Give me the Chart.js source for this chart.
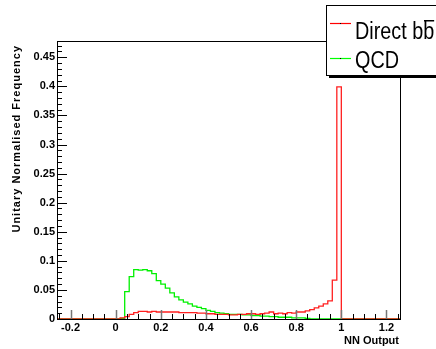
<!DOCTYPE html>
<html>
<head>
<meta charset="utf-8">
<script src="https://cdn.jsdelivr.net/npm/chart.js@4/dist/chart.umd.min.js"></script>
<style>
  html, body { margin: 0; padding: 0; background: #ffffff; }
  #wrap { width: 436px; height: 349px; }
</style>
</head>
<body>
<div id="wrap"><canvas id="nnChart" width="436" height="349"></canvas></div>
<script>
// гистограммы выхода нейросети, бины по 0.02 начиная с 0
const binStart = 0;
const binWidth = 0.02;
const xRange = [-0.26, 1.26];
const yRange = [0, 0.478];

const seriesNames = ['Direct bb', 'QCD'];

const directBB = [
    0, 0.002, 0.004, 0.008, 0.011, 0.013, 0.013, 0.012, 0.013, 0.012,
    0.012, 0.012, 0.012, 0.012, 0.011, 0.011, 0.011, 0.011, 0.010, 0.010,
    0.009, 0.009, 0.008, 0.008, 0.008, 0.007, 0.007, 0.008, 0.008, 0.009,
    0.009, 0.008, 0.009, 0.010, 0.012, 0.009, 0.010, 0.009, 0.011, 0.010,
    0.012, 0.012, 0.014, 0.016, 0.019, 0.022, 0.026, 0.031, 0.067, 0.399
];

const qcd = [
    0, 0.001, 0.047, 0.073, 0.085, 0.084, 0.085, 0.083, 0.078, 0.066,
    0.060, 0.053, 0.045, 0.038, 0.033, 0.029, 0.026, 0.022, 0.020, 0.018,
    0.015, 0.013, 0.011, 0.010, 0.009, 0.008, 0.008, 0.008, 0.007, 0.007,
    0.006, 0.006, 0.005, 0.005, 0.004, 0.004, 0.003, 0.003, 0.003, 0.002,
    0.002, 0.002, 0.001, 0, 0, 0, 0, 0, 0, 0
];

const xTickLabels = [-0.2, 0, 0.2, 0.4, 0.6, 0.8, 1, 1.2];
const yTickLabels = [0, 0.05, 0.1, 0.15, 0.2, 0.25, 0.3, 0.35, 0.4, 0.45];

// точки ступенчатой линии из значений бинов
function histPoints(values) {
    const pts = [{ x: xRange[0], y: 0 }];
    values.forEach((v, i) => {
        pts.push({ x: +(binStart + i * binWidth).toFixed(3), y: v });
    });
    pts.push({ x: +(binStart + values.length * binWidth).toFixed(3), y: 0 });
    pts.push({ x: xRange[1], y: 0 });
    return pts;
}

function fmt(v) {
    return String(+v.toFixed(3));
}

// рамка и засечки в стиле ROOT
const rootFrame = {
    id: 'rootFrame',
    afterDatasetsDraw(chart) {
        const ctx = chart.ctx;
        const a = chart.chartArea;
        const xs = chart.scales.x;
        const ys = chart.scales.y;
        ctx.save();
        ctx.strokeStyle = '#000';
        ctx.lineWidth = 1;
        ctx.strokeRect(Math.round(a.left) + 0.5, Math.round(a.top) + 0.5,
            Math.round(a.right - a.left), Math.round(a.bottom - a.top));

        // засечки по Y
        for (let k = 0; k <= 47; k++) {
            const y = Math.round(ys.getPixelForValue(k * 0.01)) + 0.5;
            const len = (k % 5 === 0) ? 10 : 5;
            ctx.beginPath();
            ctx.moveTo(a.left, y);
            ctx.lineTo(a.left + len, y);
            ctx.stroke();
        }
        // засечки по X
        for (let k = -5; k <= 25; k++) {
            const v = k * 0.05;
            const x = Math.round(xs.getPixelForValue(v)) + 0.5;
            const major = (k % 4 === 0);
            ctx.strokeStyle = major ? '#777' : '#000';
            ctx.lineWidth = major ? 1.5 : 1;
            ctx.beginPath();
            ctx.moveTo(x, a.bottom);
            ctx.lineTo(x, a.bottom - (major ? 9 : 5));
            ctx.stroke();
        }
        ctx.restore();
    },
    afterDraw(chart) {
        const ctx = chart.ctx;
        const a = chart.chartArea;
        ctx.save();
        ctx.fillStyle = '#000';

        // подпись оси Y
        ctx.font = 'bold 11px "Liberation Sans", Arial, sans-serif';
        ctx.letterSpacing = '1px';
        ctx.translate(17, 45);
        ctx.rotate(-Math.PI / 2);
        ctx.textAlign = 'right';
        ctx.textBaseline = 'middle';
        ctx.fillText('Unitary Normalised Frequency', 0, 0);
        ctx.restore();

        ctx.save();
        ctx.fillStyle = '#000';
        ctx.font = 'bold 11px "Liberation Sans", Arial, sans-serif';
        ctx.textAlign = 'right';
        ctx.textBaseline = 'middle';
        ctx.fillText('NN Output', a.right - 1, 341);

        // легенда
        const lx = 326, ly = 5, lh = 70;
        ctx.fillRect(lx + 3, ly + lh, 436 - lx, 3);
        ctx.fillStyle = '#fff';
        ctx.fillRect(lx, ly, 436 - lx + 5, lh);
        ctx.strokeStyle = '#000';
        ctx.lineWidth = 1;
        ctx.strokeRect(lx + 0.5, ly + 0.5, 436 - lx + 5, lh);

        const rows = [
            { y: 23, color: '#ff0000', text: seriesNames[0], base: 39 },
            { y: 58, color: '#00ff00', text: seriesNames[1], base: 68 }
        ];
        rows.forEach((r, i) => {
            ctx.strokeStyle = r.color;
            ctx.lineWidth = 1.2;
            ctx.beginPath();
            ctx.moveTo(330, r.y + 0.5);
            ctx.lineTo(351, r.y + 0.5);
            ctx.stroke();
            ctx.fillStyle = '#000';
            ctx.fillRect(340, r.y, 1, 1);

            ctx.save();
            ctx.translate(355, r.base);
            ctx.scale(0.86, 1);
            ctx.font = '23px "Liberation Sans", Arial, sans-serif';
            ctx.textAlign = 'left';
            ctx.textBaseline = 'alphabetic';
            ctx.fillText(r.text, 0, 0);
            if (i === 0) {
                // черта над второй b
                const w = ctx.measureText(r.text).width;
                const wb = ctx.measureText('b').width;
                ctx.fillRect(w - wb + 1, -19, wb - 1, 1.5);
            }
            ctx.restore();
        });
        ctx.restore();
    }
};

new Chart(document.getElementById('nnChart'), {
    type: 'line',
    data: {
        datasets: [
            {
                label: seriesNames[0],
                data: histPoints(directBB),
                borderColor: '#ff2020',
                borderWidth: 1.3,
                stepped: true,
                pointRadius: 0,
                fill: false
            },
            {
                label: seriesNames[1],
                data: histPoints(qcd),
                borderColor: '#00f000',
                borderWidth: 1.3,
                stepped: true,
                pointRadius: 0,
                fill: false
            }
        ]
    },
    options: {
        responsive: false,
        animation: false,
        layout: { padding: { top: 41, right: 36, left: 0, bottom: 0 } },
        plugins: { legend: { display: false }, tooltip: { enabled: false } },
        scales: {
            x: {
                type: 'linear',
                min: xRange[0],
                max: xRange[1],
                grid: { display: false, drawTicks: false },
                border: { display: false },
                afterFit: s => { s.height = 30; },
                afterBuildTicks: s => { s.ticks = xTickLabels.map(v => ({ value: v })); },
                ticks: {
                    autoSkip: false,
                    maxRotation: 0,
                    padding: 2,
                    color: '#000',
                    font: { family: '"Liberation Sans", Arial, sans-serif', size: 11, weight: 'bold' },
                    callback: v => fmt(v)
                }
            },
            y: {
                min: yRange[0],
                max: yRange[1],
                grid: { display: false, drawTicks: false },
                border: { display: false },
                afterFit: s => { s.width = 57; },
                afterBuildTicks: s => { s.ticks = yTickLabels.map(v => ({ value: v })); },
                ticks: {
                    autoSkip: false,
                    padding: 2,
                    color: '#000',
                    font: { family: '"Liberation Sans", Arial, sans-serif', size: 11, weight: 'bold' },
                    callback: v => fmt(v)
                }
            }
        }
    },
    plugins: [rootFrame]
});
</script>
</body>
</html>
